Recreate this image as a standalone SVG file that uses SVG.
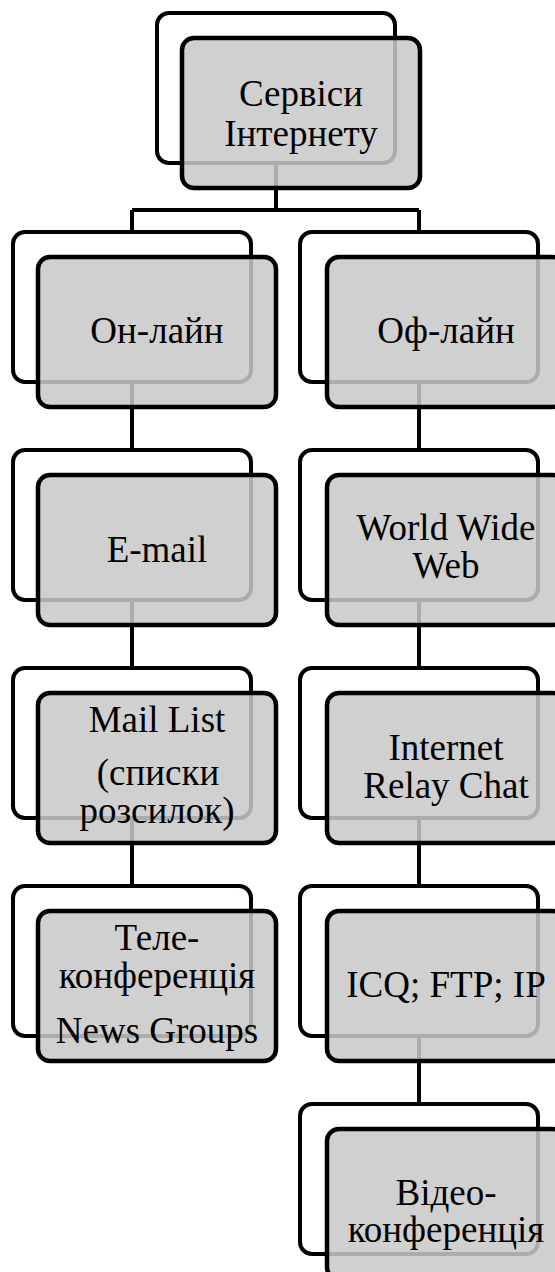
<svg xmlns="http://www.w3.org/2000/svg" width="555" height="1272" viewBox="0 0 555 1272" font-family="'Liberation Serif', 'Times New Roman', 'DejaVu Serif', serif">
<style>
.back{fill:#ffffff;stroke:#000;stroke-width:4}
.front{fill:#c8c8c8;fill-opacity:0.86;stroke:#000;stroke-width:4.5}
.lbl{font-family:'Liberation Serif','Times New Roman','DejaVu Serif',serif;font-size:37px;fill:#000;text-anchor:middle}
.conn{fill:none;stroke:#000;stroke-width:4}
</style>
<rect width="555" height="1272" fill="#fff"/>
<g id="connectors">
<path class="conn" d="M276,163 V210 M132,210 H419 M132,210 V232 M419,210 V232"/>
<path class="conn" d="M132,382 V450 M132,600 V668 M132,818 V886"/>
<path class="conn" d="M419,382 V450 M419,600 V668 M419,818 V886 M419,1036 V1104"/>
</g>
<g id="n-services">
<rect class="back" x="157" y="13" width="238" height="150" rx="12"/>
<rect class="front" x="182" y="38" width="238" height="150" rx="12"/>
<text class="lbl" x="301" y="106">Сервіси</text>
<text class="lbl" x="301" y="146">Інтернету</text>
</g>
<g id="n-online">
<rect class="back" x="13" y="232" width="238" height="150" rx="12"/>
<rect class="front" x="38" y="257" width="238" height="150" rx="12"/>
<text class="lbl" x="157" y="343">Он-лайн</text>
</g>
<g id="n-offline">
<rect class="back" x="300" y="232" width="238" height="150" rx="12"/>
<rect class="front" x="327" y="257" width="238" height="150" rx="12"/>
<text class="lbl" x="446" y="343">Оф-лайн</text>
</g>
<g id="n-email">
<rect class="back" x="13" y="450" width="238" height="150" rx="12"/>
<rect class="front" x="38" y="475" width="238" height="150" rx="12"/>
<text class="lbl" x="157" y="562">E-mail</text>
</g>
<g id="n-www">
<rect class="back" x="300" y="450" width="238" height="150" rx="12"/>
<rect class="front" x="327" y="475" width="238" height="150" rx="12"/>
<text class="lbl" x="446" y="540">World Wide</text>
<text class="lbl" x="446" y="578">Web</text>
</g>
<g id="n-maillist">
<rect class="back" x="13" y="668" width="238" height="150" rx="12"/>
<rect class="front" x="38" y="693" width="238" height="150" rx="12"/>
<text class="lbl" x="157" y="732">Mail List</text>
<text class="lbl" x="158" y="785">(списки</text>
<text class="lbl" x="157" y="823">розсилок)</text>
</g>
<g id="n-irc">
<rect class="back" x="300" y="668" width="238" height="150" rx="12"/>
<rect class="front" x="327" y="693" width="238" height="150" rx="12"/>
<text class="lbl" x="446" y="760">Internet</text>
<text class="lbl" x="446" y="798">Relay Chat</text>
</g>
<g id="n-tele">
<rect class="back" x="13" y="886" width="238" height="150" rx="12"/>
<rect class="front" x="38" y="911" width="238" height="150" rx="12"/>
<text class="lbl" x="157" y="950">Теле-</text>
<text class="lbl" x="157" y="988">конференція</text>
<text class="lbl" x="157" y="1043">News Groups</text>
</g>
<g id="n-icq">
<rect class="back" x="300" y="886" width="238" height="150" rx="12"/>
<rect class="front" x="327" y="911" width="238" height="150" rx="12"/>
<text class="lbl" x="446" y="997">ICQ; FTP; IP</text>
</g>
<g id="n-video">
<rect class="back" x="300" y="1104" width="238" height="150" rx="12"/>
<rect class="front" x="327" y="1129" width="238" height="150" rx="12"/>
<text class="lbl" x="446" y="1205">Відео-</text>
<text class="lbl" x="446" y="1242">конференція</text>
</g>
</svg>
